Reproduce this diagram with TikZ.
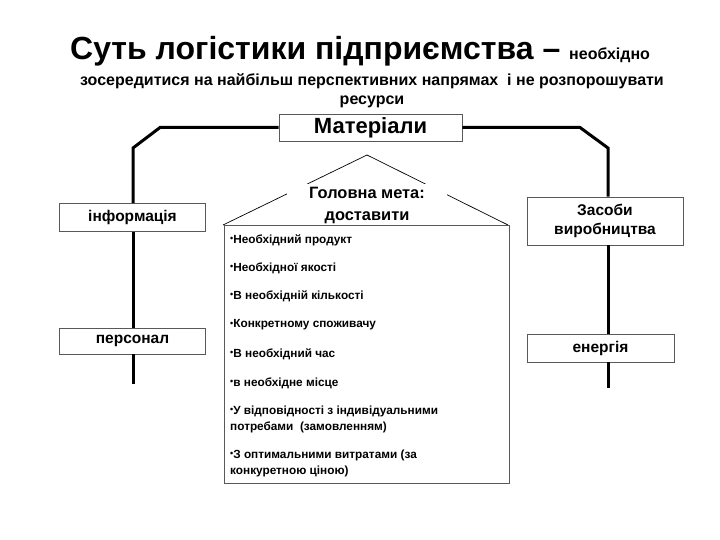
\documentclass[tikz,border=0pt]{standalone}
\usepackage{fontspec}
\setsansfont{Liberation Sans}

\tikzset{
  frame/.style={draw=black!65, line width=0.8pt, inner sep=0pt},
  link/.style={line width=3pt},
  boxtext/.style={font=\fontsize{15.5}{19}\selectfont\sffamily\bfseries},
  goalitem/.style={anchor=west, align=left, inner sep=0pt, font=\fontsize{11.8}{16}\selectfont\sffamily\bfseries}
}
\newcommand{\dotmark}{\raisebox{1.8pt}{\fontsize{9}{9}\selectfont•}}

\begin{document}
\begin{tikzpicture}[x=1pt, y=-1pt, font=\sffamily\bfseries]
        \useasboundingbox (0,0) rectangle (720,540);
        % title
        \node[anchor=base west, inner sep=0pt] (title) at (70,60)
          {\fontsize{32}{36}\selectfont Суть логістики підприємства – {\fontsize{16}{18}\selectfont необхідно}};
        \node[anchor=base, inner sep=0pt, font=\fontsize{16}{18}\selectfont\sffamily\bfseries] (sub1) at (372,86)
          {зосередитися на найбільш перспективних напрямах\ \ і не розпорошувати};
        \node[anchor=base, inner sep=0pt, font=\fontsize{16}{18}\selectfont\sffamily\bfseries] (sub2) at (372,105) {ресурси};
        % resource boxes
        \node[frame, minimum width=183, minimum height=27, font=\fontsize{22}{24}\selectfont\sffamily\bfseries] (mat) at (370.5,127.5) {Матеріали};
        \node[frame, boxtext, minimum width=146, minimum height=28] (info) at (132.5,217.5) {інформація};
        \node[frame, boxtext, minimum width=146, minimum height=26] (pers) at (132.5,341) {персонал};
        \node[frame, boxtext, minimum width=156, minimum height=48, align=center] (zas) at (605,221) {Засоби\\виробництва};
        \node[frame, boxtext, minimum width=147, minimum height=28] (ener) at (600.5,348) {енергія};
        % frame lines
        \coordinate (ltop) at (160,127.5);
        \coordinate (lbend) at (133,148);
        \coordinate (lend) at (133,384);
        \coordinate (rtop) at (580,127.5);
        \coordinate (rbend) at (608,148);
        \coordinate (rend) at (608,388);
        \draw[link] (mat.west) -- (ltop) -- (lbend) -- (lbend |- info.north);
        \draw[link] (info.south -| lbend) -- (pers.north -| lbend);
        \draw[link] (pers.south -| lbend) -- (lend);
        \draw[link] (mat.east) -- (rtop) -- (rbend) -- (rbend |- zas.north);
        \draw[link] (zas.south -| rbend) -- (ener.north -| rbend);
        \draw[link] (ener.south -| rbend) -- (rend);
        % roof with the goal
        \coordinate (apex) at (367,155);
        \coordinate (eaveL) at (223,225);
        \coordinate (eaveR) at (508,225);
        \draw[line width=0.7pt] (eaveL) -- (apex) -- (eaveR);
        \node[fill=white, align=center, inner xsep=22pt, inner ysep=3pt, font=\fontsize{16.4}{22}\selectfont\sffamily\bfseries] (goal) at (367,205) {Головна мета:\\доставити};
        \node[frame, minimum width=285, minimum height=258] (list) at (366.5,354) {};
        \foreach \y/\t in {240/{Необхідний продукт}, 268/{Необхідної якості}, 296/{В необхідній кількості},
                           325/{Конкретному споживачу}, 354/{В необхідний час}, 383/{в необхідне місце},
                           419/{У відповідності з індивідуальними\\потребами\ \ (замовленням)},
                           463/{З оптимальними витратами (за\\конкуретною ціною)}}
          \node[goalitem] at (230,\y) {\dotmark\t};
\end{tikzpicture}
\end{document}
